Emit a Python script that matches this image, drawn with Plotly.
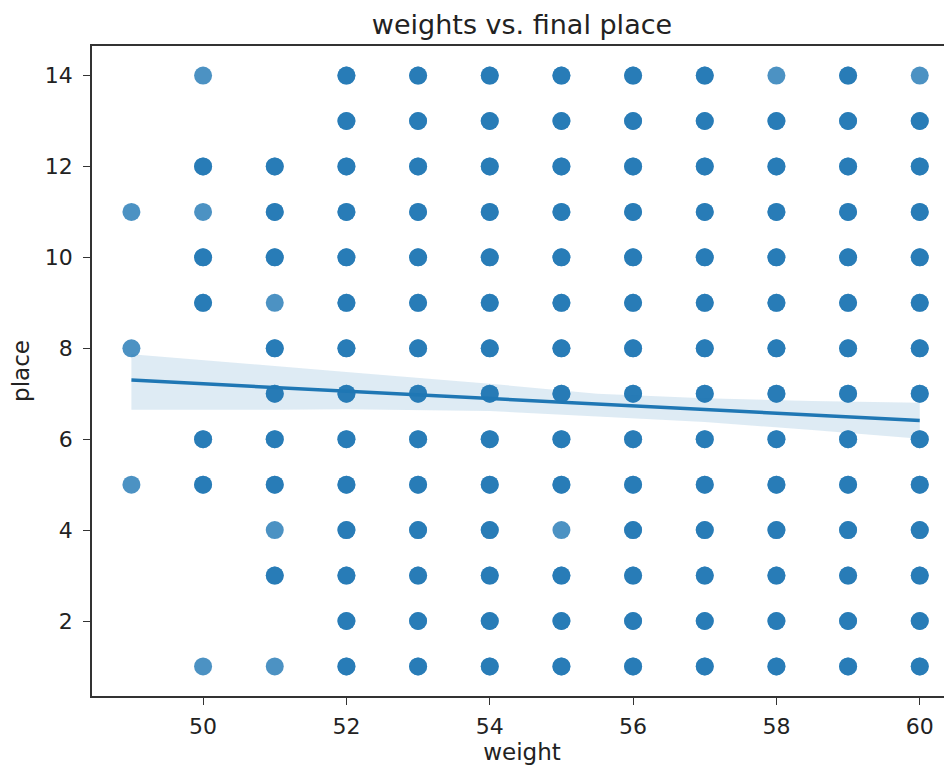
import plotly.graph_objects as go

# ---- data ----
weights = [49, 50, 51, 52, 53, 54, 55, 56, 57, 58, 59, 60]
# places present at each weight
places_by_weight = {
    49: [11, 8, 5],
    50: [14, 12, 11, 10, 9, 6, 5, 1],
    51: [12, 11, 10, 9, 8, 7, 6, 5, 4, 3, 1],
    52: list(range(1, 15)),
    53: list(range(1, 15)),
    54: list(range(1, 15)),
    55: list(range(1, 15)),
    56: list(range(1, 15)),
    57: list(range(1, 15)),
    58: list(range(1, 15)),
    59: list(range(1, 15)),
    60: list(range(1, 15)),
}
# (weight, place) combinations that appear only once (lighter dots)
single_points = [(49, 11), (49, 8), (49, 5), (50, 14), (50, 11), (50, 1),
                 (51, 9), (51, 4), (51, 1), (55, 4), (58, 14), (60, 14)]

# regression line and confidence band
fit_x = [49, 60]
fit_y = [7.30, 6.41]
band_x = [49, 51, 52, 54, 55.5, 57, 58.5, 60]
band_lo = [6.65, 6.65, 6.66, 6.62, 6.50, 6.38, 6.20, 6.01]
band_hi = [7.87, 7.60, 7.48, 7.22, 7.00, 6.90, 6.84, 6.80]

x_ticks = [50, 52, 54, 56, 58, 60]
y_ticks = [2, 4, 6, 8, 10, 12, 14]

# ---- expand observations ----
xs, ys = [], []
for w in weights:
    for p in places_by_weight[w]:
        n = 1 if (w, p) in single_points else 2
        xs += [w] * n
        ys += [p] * n

BLUE = "#1f77b4"
FONT = "DejaVu Sans"

fig = go.Figure()
fig.add_trace(go.Scatter(
    x=xs, y=ys, mode="markers",
    marker=dict(color=BLUE, size=18, opacity=0.8, line=dict(width=0)),
    showlegend=False, hoverinfo="skip"))
fig.add_trace(go.Scatter(
    x=band_x + band_x[::-1], y=band_hi + band_lo[::-1],
    fill="toself", fillcolor="rgba(31,119,180,0.15)",
    line=dict(width=0), mode="lines", showlegend=False, hoverinfo="skip"))
fig.add_trace(go.Scatter(
    x=fit_x, y=fit_y, mode="lines",
    line=dict(color=BLUE, width=3.5), showlegend=False))

fig.update_layout(
    width=944, height=764,
    margin=dict(l=84, r=0, t=38, b=76),
    paper_bgcolor="white", plot_bgcolor="white",
    font=dict(family=FONT, size=22, color="#222"),
    title=dict(text="weights vs. final place", x=0.5, xanchor="center",
               xref="paper", y=1 - 17 / 764, yref="container",
               yanchor="middle", pad=dict(t=0, b=0),
               font=dict(size=27, color="#222")),
    xaxis=dict(range=[48.45, 60.45], tickvals=x_ticks, ticks="outside",
               ticklen=7, tickwidth=1.3, tickcolor="#333",
               ticklabelstandoff=3,
               showline=True, linecolor="#333", linewidth=1.5, mirror=True,
               showgrid=False, zeroline=False,
               title=dict(text="weight", standoff=6, font=dict(size=23))),
    yaxis=dict(range=[0.35, 14.65], tickvals=y_ticks, ticks="outside",
               ticklen=7, tickwidth=1.3, tickcolor="#333",
               ticklabelstandoff=6,
               showline=True, linecolor="#333", linewidth=1.5, mirror=False,
               showgrid=False, zeroline=False,
               title=dict(text="place", standoff=12, font=dict(size=23))),
)

fig.write_html("out.html")
